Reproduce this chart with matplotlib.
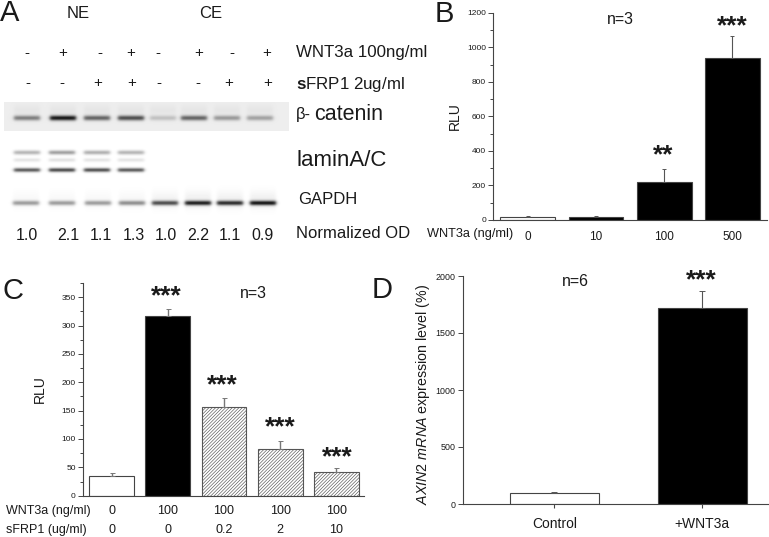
import numpy as np
import matplotlib
matplotlib.use('Agg')
import matplotlib.pyplot as plt

plt.rcParams['font.family'] = ['Liberation Sans', 'DejaVu Sans']
plt.rcParams['mathtext.fontset'] = 'custom'
plt.rcParams['mathtext.rm'] = 'Liberation Sans'
plt.rcParams['mathtext.it'] = 'Liberation Sans:italic'
plt.rcParams['mathtext.bf'] = 'Liberation Sans:bold'
plt.rcParams['hatch.linewidth'] = 0.45

W, H = 769, 537
AXC = '#444444'
TXT = '#1a1a1a'

# panel A, western blot
wnt3a_signs = ['-', '+', '-', '+', '-', '+', '-', '+']
sfrp1_signs = ['-', '-', '+', '+', '-', '-', '+', '+']
wnt3a_x = [27, 63, 100, 131, 158, 199, 232, 267]
sfrp1_x = [28, 62, 98, 132, 159, 198, 229, 268]
od_values = ['1.0', '2.1', '1.1', '1.3', '1.0', '2.2', '1.1', '0.9']
od_x = [27, 68, 101, 134, 166, 198, 230, 263]
catenin_x = [27, 63, 97, 131, 163, 194, 227, 260]
catenin_od = [0.50, 0.97, 0.62, 0.72, 0.20, 0.62, 0.38, 0.34]
lamin_x = [27, 62, 97, 131]
lamin_top = [0.28, 0.36, 0.30, 0.28]
lamin_mid = [0.10, 0.11, 0.10, 0.10]
lamin_low = [0.62, 0.68, 0.66, 0.62]
gapdh_x = [26, 62, 98, 132, 165, 198, 230, 263]
gapdh_od = [0.42, 0.42, 0.42, 0.48, 0.76, 0.96, 0.90, 1.00]

# panel B
b_labels = ['0', '10', '100', '500']
b_values = [20, 20, 222, 935]
b_err = [3, 3, 72, 128]
b_colors = ['white', 'black', 'black', 'black']

# panel C
c_wnt3a = ['0', '100', '100', '100', '100']
c_sfrp1 = ['0', '0', '0.2', '2', '10']
c_values = [34, 316, 156, 83, 41]
c_err = [6, 13, 16, 13, 8]

# panel D
d_labels = ['Control', '+WNT3a']
d_values = [98, 1718]
d_err = [7, 147]


def box(left, top, right, bottom):
    return [left / W, 1 - bottom / H, (right - left) / W, (bottom - top) / H]


def band(img, xx, yy, x0, y0, od, half_w=13, sig=1.8):
    prof_x = 0.5 * (np.tanh((xx - x0 + half_w) / 2.0) - np.tanh((xx - x0 - half_w) / 2.0))
    prof_y = np.exp(-((yy - y0) / sig) ** 2)
    img -= od * prof_x * prof_y


def style(ax):
    for s in ['top', 'right']:
        ax.spines[s].set_visible(False)
    for s in ['left', 'bottom']:
        ax.spines[s].set_color(AXC)
        ax.spines[s].set_linewidth(0.8)
    ax.patch.set_alpha(0)
    ax.tick_params(axis='y', which='both', colors=AXC, labelcolor=TXT, width=0.7)


fig = plt.figure(figsize=(W / 100, H / 100), dpi=100)

# overlay in pixel coordinates for the blot and the free labels
bg = fig.add_axes([0, 0, 1, 1])
bg.set_xlim(0, W)
bg.set_ylim(H, 0)
bg.axis('off')

xx, yy = np.meshgrid(np.arange(0, 296) + 0.5, np.arange(95, 225) + 0.5)
img = np.ones_like(xx)
img[(xx > 4) & (xx < 289) & (yy > 102) & (yy < 131)] = 0.93
for x0, od in zip(catenin_x, catenin_od):
    band(img, xx, yy, x0, 118, od * 0.85, sig=2.6)
    band(img, xx, yy, x0, 110, 0.03, sig=5)
for i, x0 in enumerate(lamin_x):
    band(img, xx, yy, x0, 152.5, lamin_top[i], sig=2.2)
    band(img, xx, yy, x0, 160, lamin_mid[i], sig=2.0)
    band(img, xx, yy, x0, 170, lamin_low[i], sig=2.1)
for x0, od in zip(gapdh_x, gapdh_od):
    band(img, xx, yy, x0, 203, od * 0.85, sig=2.4)
    band(img, xx, yy, x0, 200, od * 0.06, sig=9)
bg.imshow(np.clip(img, 0, 1), cmap='gray', vmin=0, vmax=1, extent=(0, 296, 225, 95),
          aspect='auto', interpolation='bilinear')
bg.set_xlim(0, W)
bg.set_ylim(H, 0)


def label(x, y, s, size, ha='center', **kw):
    bg.text(x, y, s, fontsize=size, ha=ha, va='center', color=TXT, **kw)


label(0, 13, 'A', 21, ha='left')
label(435, 14, 'B', 21, ha='left')
label(2, 291, 'C', 21, ha='left')
label(372, 290, 'D', 21, ha='left')
label(78, 14, 'NE', 12)
label(211, 14, 'CE', 12)
for x, s in zip(wnt3a_x, wnt3a_signs):
    label(x, 53, s, 11)
for x, s in zip(sfrp1_x, sfrp1_signs):
    label(x, 83, s, 11)
for x, s in zip(od_x, od_values):
    label(x, 235, s, 11.5)
label(296, 52, 'WNT3a 100ng/ml', 12.2, ha='left')
label(296, 85, r'$\mathbf{s}$FRP1 2ug/ml', 12.2, ha='left')
label(296, 115, 'β-', 12, ha='left')
label(314, 115, 'catenin', 15.5, ha='left')
label(296, 161, 'laminA/C', 16, ha='left')
label(298, 199, 'GAPDH', 12, ha='left')
label(296, 234, 'Normalized OD', 12, ha='left')

# panel B
ax = fig.add_axes(box(493, 12.7, 767, 220))
ax.bar(range(4), b_values, width=0.806, color=b_colors, edgecolor=AXC, linewidth=0.8)
ax.errorbar(range(4), b_values, yerr=[[0] * 4, b_err], fmt='none', ecolor='#555555',
            elinewidth=0.8, capsize=1.5, capthick=0.7)
ax.set_xlim(-0.51, 3.507)
ax.set_ylim(0, 1200)
ax.set_yticks(np.arange(0, 1201, 200))
ax.set_yticks(np.arange(100, 1200, 200), minor=True)
ax.tick_params(axis='y', which='major', length=3.5, labelsize=6, pad=1.5)
ax.tick_params(axis='y', which='minor', length=2)
ax.set_xticks(range(4))
ax.set_xticklabels(b_labels, fontsize=8.5, color=TXT)
ax.tick_params(axis='x', length=0, pad=8)
ax.set_ylabel('RLU', fontsize=10, color=TXT)
ax.yaxis.set_label_coords(-0.113, 0.5)
style(ax)
label(470.5, 234, 'WNT3a (ng/ml)', 9.2)
label(620, 19, 'n=3', 11.5)
label(663.7, 155, '**', 19, fontweight='bold')
label(732.7, 26, '***', 19, fontweight='bold')

# panel C
ax = fig.add_axes(box(82.7, 283, 364, 495.7))
bars = ax.bar(range(5), c_values, width=0.80, color=['white', 'black', 'white', 'white', 'white'],
              edgecolor=AXC, linewidth=0.8)
for b in bars[2:]:
    b.set_hatch('//////////')
    b.set_edgecolor('#555555')
ax.errorbar(range(5), c_values, yerr=[[0] * 5, c_err], fmt='none', ecolor='#777777',
            elinewidth=1.0, capsize=1.8, capthick=0.7)
ax.set_xlim(-0.519, 4.495)
ax.set_ylim(0, 374.6)
ax.set_yticks(np.arange(0, 351, 50))
ax.set_yticks(np.arange(25, 376, 50), minor=True)
ax.tick_params(axis='y', which='major', length=3.5, labelsize=6, pad=1.5)
ax.tick_params(axis='y', which='minor', length=2)
ax.set_xticks([])
ax.set_ylabel('RLU', fontsize=10, color=TXT)
ax.yaxis.set_label_coords(-0.127, 0.5)
style(ax)
for i in range(5):
    ax.text(i, -0.07, c_wnt3a[i], transform=ax.get_xaxis_transform(), fontsize=9,
            ha='center', va='center', color=TXT)
    ax.text(i, -0.161, c_sfrp1[i], transform=ax.get_xaxis_transform(), fontsize=9,
            ha='center', va='center', color=TXT)
label(6, 511, 'WNT3a (ng/ml)', 9, ha='left')
label(6, 530, 'sFRP1 (ug/ml)', 9, ha='left')
label(253, 293, 'n=3', 11.5)
label(166.7, 296, '***', 19, fontweight='bold')
label(222.7, 385, '***', 19, fontweight='bold')
label(280.7, 427, '***', 19, fontweight='bold')
label(337, 457, '***', 19, fontweight='bold')

# panel D
ax = fig.add_axes(box(463.3, 276, 769, 504))
ax.bar(range(2), d_values, width=0.60, color=['white', 'black'], edgecolor=AXC, linewidth=0.8)
ax.errorbar(range(2), d_values, yerr=[[0] * 2, d_err], fmt='none', ecolor='#555555',
            elinewidth=0.8, capsize=2.5, capthick=0.7)
ax.set_xlim(-0.615, 1.45)
ax.set_ylim(0, 2000)
ax.set_yticks(np.arange(0, 2001, 500))
ax.tick_params(axis='y', length=3.5, labelsize=6.4, pad=2)
ax.set_xticks(range(2))
ax.set_xticklabels(d_labels, fontsize=10, color=TXT)
ax.tick_params(axis='x', length=3, color=AXC, pad=6)
ax.set_ylabel(r'$\mathit{AXIN2\ mRNA}$ expression level (%)', fontsize=10.3, color=TXT)
ax.yaxis.set_label_coords(-0.103, 0.48)
style(ax)
label(575, 281, 'n=6', 11.5)
label(701.7, 280, '***', 19, fontweight='bold')

fig.savefig('out.png', dpi=100)
